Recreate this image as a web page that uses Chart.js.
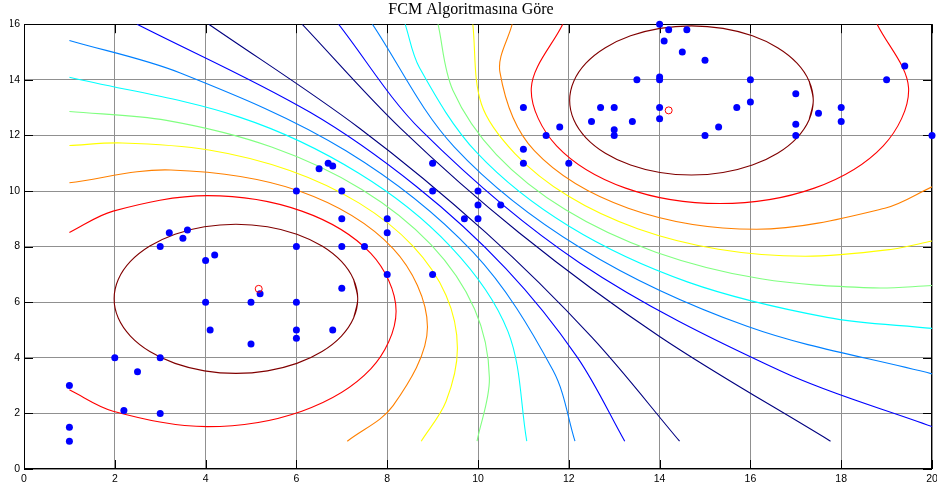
<!DOCTYPE html>
<html>
<head>
<meta charset="utf-8">
<script src="https://cdn.jsdelivr.net/npm/chart.js@4.4.1/dist/chart.umd.min.js"></script>
<style>
  html, body { margin: 0; padding: 0; background: #fff; }
</style>
</head>
<body>
<canvas id="fcmChart" width="937" height="491"></canvas>
<script>
// data points
const dataX = [1, 1, 1, 2, 2.2, 2.5, 3, 3, 3, 3.2, 3.5, 3.6, 4, 4.2, 4, 4.1, 5, 5.2, 5, 6, 6, 6, 6, 6,
  6.8, 7, 7, 7.5, 8, 9, 6.5, 6.7, 6.8, 7, 7, 8, 8, 9, 9, 9.7, 10, 10, 10, 10.5,
  11, 11, 11, 11.5, 11.8, 12, 12.5, 12.7, 13, 13, 13, 13.4, 13.5, 14, 14.2, 14.6, 14.1, 14.5, 15,
  14, 14, 16, 19, 19.4, 17, 16, 15.7, 14, 14, 15.3, 15, 17, 17, 17.5, 18, 18, 20];
const dataY = [3, 1.5, 1, 4, 2.1, 3.5, 4, 2, 8, 8.5, 8.3, 8.6, 7.5, 7.7, 6, 5, 6, 6.3, 4.5, 8, 6, 5, 4.7, 10,
  5, 6.5, 8, 8, 7, 7, 10.8, 11, 10.9, 10, 9, 9, 8.5, 11, 10, 9, 10, 9.5, 9, 9.5,
  13, 11.5, 11, 12, 12.3, 11, 12.5, 13, 13, 12.2, 12, 12.5, 14, 16, 15.8, 15.8, 15.4, 15, 14.7,
  14.1, 14, 14, 14, 14.5, 13.5, 13.2, 13, 13, 12.6, 12.3, 12, 12.4, 12, 12.8, 13, 12.5, 12];

// cluster centres
const centerX = [5.17, 14.2];
const centerY = [6.48, 12.9];

// contour levels (membership)
const levels = [0.55, 0.6, 0.65, 0.7, 0.75, 0.8, 0.85, 0.9, 0.95];

// contours around the lower-left cluster
const left55 = [[4.07, 16], [7.397, 12.25], [10.175, 8.5], [12.5, 4.75], [14.44, 1]];
const left60 = [[2.49, 16], [6.301, 12.831], [8.643, 10.163], [10.614, 7.21], [12.185, 4.026], [13.232, 1]];
const left65 = [[1, 15.416], [3.443, 14.245], [7.091, 11.446], [9.89, 7.798], [11.651, 3.549], [12.136, 1]];
const left70 = [[1, 14.09], [4.745, 12.658], [7.374, 10.641], [9.391, 8.012], [10.659, 4.95], [11.074, 1]];
const left75 = [[1, 12.86], [3.138, 12.539], [5.453, 11.58], [7.44, 10.055], [8.965, 8.068], [9.924, 5.753], [10.251, 3.27], [9.979, 1]];
const left80 = [[1, 11.635], [2.16, 11.727], [4.072, 11.475], [5.854, 10.737], [7.383, 9.563], [8.557, 8.034], [9.295, 6.252], [9.547, 4.34], [9.295, 2.428], [8.749, 1]];
const left85 = [[1, 10.295], [3.235, 10.756], [6.061, 9.999], [8.13, 7.93], [8.887, 5.104], [8.13, 2.278], [7.121, 1]];
const left90 = [[1, 8.509], [1.963, 9.276], [4.041, 9.833], [6.119, 9.276], [7.639, 7.756], [8.196, 5.678], [7.639, 3.6], [6.119, 2.08], [4.041, 1.523], [1.963, 2.08], [1, 2.847]];
const left95 = [[7.26, 5.429], [7.351, 6.123], [7.26, 6.817], [6.992, 7.465], [6.565, 8.02], [6.01, 8.447], [5.362, 8.715],
  [4.668, 8.806], [3.974, 8.715], [3.326, 8.447], [2.771, 8.02], [2.344, 7.465], [2.076, 6.817], [1.985, 6.123],
  [2.076, 5.429], [2.344, 4.781], [2.771, 4.226], [3.326, 3.799], [3.974, 3.531], [4.668, 3.44], [5.362, 3.531],
  [6.01, 3.799], [6.565, 4.226], [6.992, 4.781], [7.26, 5.429], [7.351, 6.123], [7.26, 6.817]];

// contours around the upper-right cluster
const right55 = [[6.125, 16], [8.295, 12.25], [10.905, 8.5], [14.015, 4.75], [17.765, 1]];
const right60 = [[6.928, 16], [8.756, 12.17], [12.25, 7.404], [16.693, 3.507], [20, 1.526]];
const right65 = [[7.674, 16], [9.48, 11.582], [12.279, 7.934], [15.927, 5.135], [20, 3.422]];
const right70 = [[8.395, 16], [8.712, 14.43], [9.98, 11.368], [11.997, 8.739], [14.626, 6.722], [17.688, 5.454], [20, 5.058]];
const right75 = [[9.12, 16], [9.446, 13.627], [10.405, 11.312], [11.93, 9.325], [13.917, 7.8], [16.232, 6.841], [18.715, 6.514], [20, 6.6]];
const right80 = [[9.886, 16], [10.075, 13.128], [10.813, 11.346], [11.987, 9.817], [13.516, 8.643], [15.298, 7.905], [17.21, 7.653], [19.122, 7.905], [20, 8.2]];
const right85 = [[10.753, 16], [10.483, 14.276], [11.24, 11.45], [13.309, 9.381], [16.135, 8.624], [18.961, 9.381], [20, 10.152]];
const right90 = [[11.867, 16], [11.174, 13.703], [11.731, 11.625], [13.251, 10.104], [15.329, 9.548], [17.407, 10.104], [18.927, 11.625], [19.484, 13.703], [18.791, 16]];
const right95 = [[17.294, 12.563], [17.385, 13.257], [17.294, 13.951], [17.026, 14.599], [16.599, 15.154], [16.044, 15.581], [15.396, 15.849],
  [14.702, 15.94], [14.008, 15.849], [13.36, 15.581], [12.805, 15.154], [12.378, 14.599], [12.11, 13.951], [12.019, 13.257],
  [12.11, 12.563], [12.378, 11.915], [12.805, 11.36], [13.36, 10.933], [14.008, 10.665], [14.702, 10.574], [15.396, 10.665],
  [16.044, 10.933], [16.599, 11.36], [17.026, 11.915], [17.294, 12.563], [17.385, 13.257], [17.294, 13.951]];

const leftLines = [left55, left60, left65, left70, left75, left80, left85, left90, left95];
const rightLines = [right55, right60, right65, right70, right75, right80, right85, right90, right95];

// jet colours, one per level
const jet = ["#000080", "#0000ff", "#0080ff", "#00ffff", "#80ff80", "#ffff00", "#ff8000", "#ff0000", "#800000"];

const toXY = arr => arr.map(p => ({ x: p[0], y: p[1] }));

const datasets = [];
datasets.push({
  data: centerX.map((x, i) => ({ x, y: centerY[i] })),
  pointRadius: 3.5,
  pointBackgroundColor: "rgba(0,0,0,0)",
  pointBorderColor: "#ff0000",
  pointBorderWidth: 1,
  clip: false,
});
datasets.push({
  data: dataX.map((x, i) => ({ x, y: dataY[i] })),
  pointRadius: 3.5,
  pointBackgroundColor: "#0000ff",
  pointBorderWidth: 0,
  clip: false,
});
levels.forEach((lv, i) => {
  [leftLines[i], rightLines[i]].forEach(line => {
    datasets.push({
      label: String(lv),
      data: toXY(line),
      showLine: true,
      pointRadius: 0,
      borderColor: jet[i],
      borderWidth: 1.1,
      tension: 0.34,
      fill: false,
    });
  });
});

// box round the axes with inward ticks, like MATLAB
const frame = {
  id: "frame",
  beforeDatasetsDraw(chart) {
    const { ctx, chartArea: a, scales: { x, y } } = chart;
    ctx.save();
    ctx.strokeStyle = "#000";
    ctx.lineWidth = 1;
    ctx.beginPath();
    x.ticks.forEach(t => {
      const px = Math.round(x.getPixelForValue(t.value)) + 0.5;
      ctx.moveTo(px, a.bottom); ctx.lineTo(px, a.bottom - 9);
      ctx.moveTo(px, a.top); ctx.lineTo(px, a.top + 9);
    });
    y.ticks.forEach(t => {
      const py = Math.round(y.getPixelForValue(t.value)) + 0.5;
      ctx.moveTo(a.left, py); ctx.lineTo(a.left + 9, py);
      ctx.moveTo(a.right, py); ctx.lineTo(a.right - 9, py);
    });
    ctx.stroke();
    ctx.strokeRect(Math.round(a.left) + 0.5, Math.round(a.top) + 0.5, Math.round(a.width) - 1, Math.round(a.height) - 1);
    ctx.restore();
  }
};

const tickFont = { family: "'Liberation Sans', Arial, sans-serif", size: 10.5 };

new Chart(document.getElementById("fcmChart"), {
  type: "scatter",
  data: { datasets },
  options: {
    responsive: false,
    animation: false,
    events: [],
    layout: { padding: { left: 10, right: 5, top: 0, bottom: 0 } },
    plugins: {
      legend: { display: false },
      tooltip: { enabled: false },
      title: {
        display: true,
        text: "FCM Algoritmasına Göre",
        color: "#000",
        font: { family: "'Liberation Serif', 'Times New Roman', serif", size: 16, weight: "normal" },
        padding: { top: 0, bottom: 5 },
      },
    },
    scales: {
      x: {
        type: "linear",
        min: 0,
        max: 20,
        ticks: { stepSize: 2, color: "#000", font: tickFont, padding: 4, maxRotation: 0 },
        grid: { color: "#909090", drawTicks: false },
        border: { display: false },
        afterFit(s) { s.height = 22; s.paddingLeft = 0; s.paddingRight = 0; },
      },
      y: {
        type: "linear",
        min: 0,
        max: 16,
        ticks: { stepSize: 2, color: "#000", font: tickFont, padding: 4 },
        grid: { color: "#909090", drawTicks: false },
        border: { display: false },
        afterFit(s) { s.width = 14; s.paddingTop = 0; s.paddingBottom = 0; },
      },
    },
  },
  plugins: [frame],
});
</script>
</body>
</html>
